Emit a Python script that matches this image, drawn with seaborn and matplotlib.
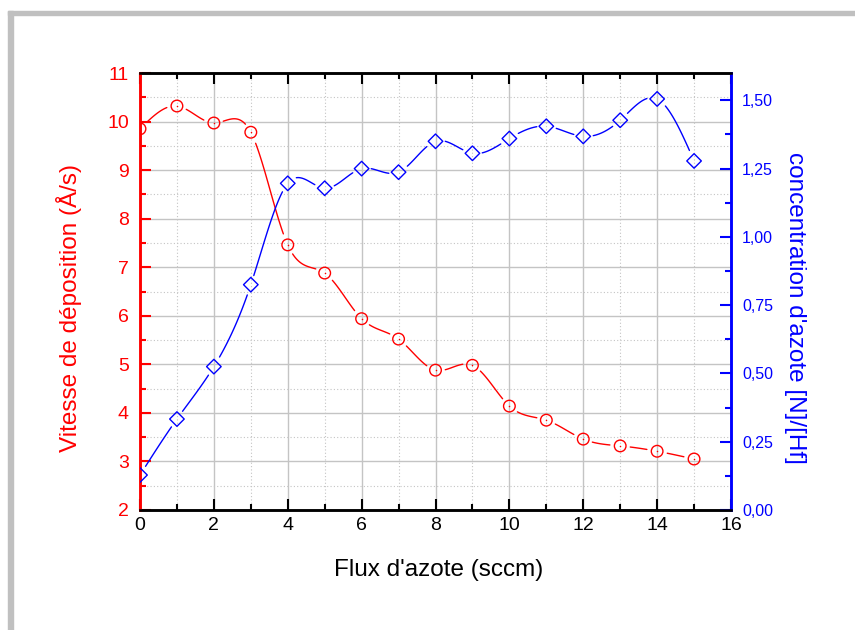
import numpy as np
import pandas as pd
import matplotlib
matplotlib.use("Agg")
import matplotlib.pyplot as plt
import seaborn as sns
from matplotlib.ticker import MultipleLocator, FuncFormatter
from matplotlib.patches import Rectangle

# ---- data ----
flux = [0, 1, 2, 3, 4, 5, 6, 7, 8, 9, 10, 11, 12, 13, 14, 15]
vitesse = [9.85, 10.32, 9.97, 9.78, 7.46, 6.88, 5.94, 5.52, 4.88, 4.98,
           4.14, 3.85, 3.46, 3.32, 3.21, 3.05]
concentration = [0.128, 0.333, 0.525, 0.825, 1.196, 1.178, 1.250, 1.237,
                 1.350, 1.306, 1.360, 1.405, 1.368, 1.427, 1.505, 1.278]

RED = "#ff0000"
BLUE = "#0000ff"
GRID = "#c4c4c4"

sns.set_theme(style="white")
plt.rcParams["font.family"] = ["Liberation Sans", "DejaVu Sans"]


def natural_spline(x, y, n=600):
    x = np.asarray(x, float)
    y = np.asarray(y, float)
    k = len(x)
    h = np.diff(x)
    A = np.zeros((k, k))
    b = np.zeros(k)
    A[0, 0] = 1
    A[-1, -1] = 1
    for i in range(1, k - 1):
        A[i, i - 1] = h[i - 1]
        A[i, i] = 2 * (h[i - 1] + h[i])
        A[i, i + 1] = h[i]
        b[i] = 6 * ((y[i + 1] - y[i]) / h[i] - (y[i] - y[i - 1]) / h[i - 1])
    M = np.linalg.solve(A, b)
    xs = np.linspace(x[0], x[-1], n)
    idx = np.clip(np.searchsorted(x, xs) - 1, 0, k - 2)
    x0, x1 = x[idx], x[idx + 1]
    hh = x1 - x0
    t0 = x1 - xs
    t1 = xs - x0
    ys = (M[idx] * t0 ** 3 + M[idx + 1] * t1 ** 3) / (6 * hh) \
        + (y[idx] / hh - M[idx] * hh / 6) * t0 \
        + (y[idx + 1] / hh - M[idx + 1] * hh / 6) * t1
    return xs, ys


def gapped_curve(ax, x, y, gap_px=9.5):
    xs, ys = natural_spline(x, y)
    disp = ax.transData.transform(np.column_stack([xs, ys]))
    pts = ax.transData.transform(np.column_stack([x, y]))
    d = np.min(np.hypot(disp[:, None, 0] - pts[None, :, 0],
                        disp[:, None, 1] - pts[None, :, 1]), axis=1)
    keep = d > gap_px
    seg = np.cumsum(np.r_[0, np.abs(np.diff(keep.astype(int)))])
    df = pd.DataFrame({"x": xs, "y": ys, "seg": seg})[keep]
    return df


fig = plt.figure(figsize=(8.55, 6.30), dpi=100)
ax = fig.add_axes([140 / 855, 1 - 510 / 630, 591 / 855, 437 / 630])
ax2 = ax.twinx()
ax2.set_position(ax.get_position())

ax.set_xlim(0, 16)
ax.set_ylim(2, 11)
ax2.set_ylim(0, 1.6)

# background frame
fig.patches.append(Rectangle((8 / 855, 0), 5 / 855, 1 - 11 / 630,
                             transform=fig.transFigure, color="#c0c0c0", zorder=0))
fig.patches.append(Rectangle((8 / 855, 1 - 15 / 630), 1, 4 / 630,
                             transform=fig.transFigure, color="#c0c0c0", zorder=0))

# grid
ax.xaxis.set_major_locator(MultipleLocator(2))
ax.xaxis.set_minor_locator(MultipleLocator(1))
ax.yaxis.set_major_locator(MultipleLocator(1))
ax.yaxis.set_minor_locator(MultipleLocator(0.5))
ax2.yaxis.set_major_locator(MultipleLocator(0.25))
ax2.yaxis.set_minor_locator(MultipleLocator(0.125))
ax.grid(which="major", color=GRID, lw=1.0, ls="-")
ax.grid(which="minor", color=GRID, lw=0.8, ls=(0, (1, 2)))
ax.set_axisbelow(True)

fig.canvas.draw()

# red series
df_r = gapped_curve(ax, flux, vitesse)
sns.lineplot(data=df_r, x="x", y="y", units="seg", estimator=None, sort=False,
             color=RED, lw=1.0, ax=ax, legend=False)
sns.scatterplot(x=flux, y=vitesse, marker="o", s=70, facecolors="none",
                edgecolors=RED, linewidths=1.0, ax=ax, zorder=5)
sns.scatterplot(x=flux, y=vitesse, marker="o", s=1.2, color=RED,
                linewidths=0, ax=ax, zorder=6)

# blue series
df_b = gapped_curve(ax2, flux, concentration)
sns.lineplot(data=df_b, x="x", y="y", units="seg", estimator=None, sort=False,
             color=BLUE, lw=1.0, ax=ax2, legend=False)
sns.scatterplot(x=flux, y=concentration, marker="D", s=55, facecolors="none",
                edgecolors=BLUE, linewidths=1.0, ax=ax2, zorder=5)

ax.set_xlim(0, 16)
ax.set_ylim(2, 11)
ax2.set_ylim(0, 1.6)

# spines
for a in (ax, ax2):
    for s in a.spines.values():
        s.set_linewidth(1.8)
        s.set_visible(True)
    a.spines["top"].set_color("black")
    a.spines["bottom"].set_color("black")
    a.spines["left"].set_color(RED)
    a.spines["right"].set_color(BLUE)

ax.tick_params(axis="x", which="both", direction="in", top=True, bottom=True,
               color="black", width=1.5, labelsize=14, labelcolor="black", pad=5)
ax.tick_params(axis="x", which="major", length=8)
ax.tick_params(axis="x", which="minor", length=4.5)
ax.tick_params(axis="y", which="both", direction="in", left=True, right=False,
               color=RED, width=1.5, labelsize=14, labelcolor=RED, pad=8)
ax.tick_params(axis="y", which="major", length=8)
ax.tick_params(axis="y", which="minor", length=4.5)
ax2.tick_params(axis="y", which="both", direction="in", right=True, left=False,
                color=BLUE, width=1.5, labelsize=11.5, labelcolor=BLUE, pad=8)
ax2.tick_params(axis="y", which="major", length=8)
ax2.tick_params(axis="y", which="minor", length=4.5)
ax2.yaxis.set_major_formatter(FuncFormatter(lambda v, p: f"{v:.2f}".replace(".", ",")))

ax.set_xlabel("Flux d'azote (sccm)", fontsize=17.5, color="black")
ax.set_ylabel("Vitesse de déposition (Å/s)", fontsize=17.5, color=RED)
ax2.set_ylabel("concentration d'azote [N]/[Hf]", fontsize=17.5, color=BLUE,
               rotation=270, va="center")
ax.xaxis.set_label_coords(0.505, -0.112)
ax.yaxis.set_label_coords(-0.098, 0.462)
ax2.yaxis.set_label_coords(1.108, 0.462)

fig.savefig("out.png", dpi=100, facecolor="white")
